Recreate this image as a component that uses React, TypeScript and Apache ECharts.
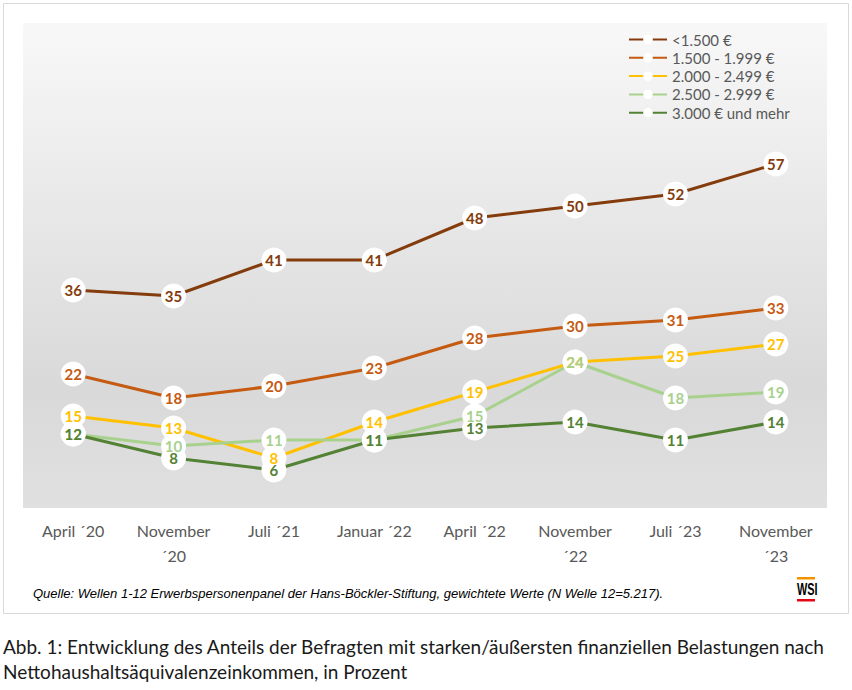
import React, { useEffect, useRef } from "react";
import * as echarts from "echarts";

const categories = [
  "April ´20",
  "November ´20",
  "Juli ´21",
  "Januar ´22",
  "April ´22",
  "November ´22",
  "Juli ´23",
  "November ´23",
];

const seriesNames = [
  "<1.500 €",
  "1.500 - 1.999 €",
  "2.000 - 2.499 €",
  "2.500 - 2.999 €",
  "3.000 € und mehr",
];

const valuesUnder1500 = [36, 35, 41, 41, 48, 50, 52, 57];
const values1500to1999 = [22, 18, 20, 23, 28, 30, 31, 33];
const values2000to2499 = [15, 13, 8, 14, 19, 24, 25, 27];
const values2500to2999 = [12, 10, 11, 11, 15, 24, 18, 19];
const values3000plus = [12, 8, 6, 11, 13, 14, 11, 14];

const seriesColors = ["#843c0c", "#c55a11", "#ffc000", "#a9d18e", "#548235"];

const sourceText =
  "Quelle: Wellen 1-12 Erwerbspersonenpanel der Hans-Böckler-Stiftung, gewichtete Werte (N Welle 12=5.217).";
const captionLine1 =
  "Abb. 1: Entwicklung des Anteils der Befragten mit starken/äußersten finanziellen Belastungen nach";
const captionLine2 = "Nettohaushaltsäquivalenzeinkommen, in Prozent";

export default function App() {
  const ref = useRef<HTMLDivElement>(null);

  useEffect(() => {
    if (!ref.current) return;
    const chart = echarts.init(ref.current, null, { renderer: "svg" });
    const allValues = [
      valuesUnder1500,
      values1500to1999,
      values2000to2499,
      values2500to2999,
      values3000plus,
    ];
    const font = "Lato, 'Open Sans', sans-serif";

    const series = allValues.map((vals, i) => ({
      name: seriesNames[i],
      type: "line",
      data: vals,
      symbol: "circle",
      symbolSize: 25,
      color: seriesColors[i],
      itemStyle: { color: "#ffffff", borderWidth: 0 },
      lineStyle: { color: seriesColors[i], width: 3 },
      label: {
        show: true,
        position: "inside",
        color: seriesColors[i],
        fontFamily: font,
        fontWeight: "bold",
        fontSize: 15,
      },
      labelLayout: { hideOverlap: false },
      emphasis: { disabled: true },
      z: 2,
    }));

    chart.setOption({
      animation: false,
      backgroundColor: "#ffffff",
      grid: { left: 23, right: 26, top: 26, bottom: 184, containLabel: false },
      xAxis: {
        type: "category",
        data: categories,
        boundaryGap: true,
        axisLine: { show: false },
        axisTick: { show: false },
        axisLabel: {
          color: "#595959",
          fontFamily: font,
          fontSize: 16,
          lineHeight: 25,
          margin: 12,
          interval: 0,
          formatter: (v: string) =>
            v.startsWith("November") ? v.replace(" ", "\n") : v,
        },
      },
      yAxis: {
        type: "value",
        min: 0,
        max: 80,
        interval: 10,
        show: false,
        splitLine: { show: false },
      },
      legend: {
        data: seriesNames,
        orient: "vertical",
        left: 623,
        top: 27,
        itemWidth: 38,
        itemHeight: 12,
        itemGap: 3.3,
        textStyle: { color: "#595959", fontFamily: font, fontSize: 15 },
      },
      graphic: [
        {
          type: "rect",
          z: -10,
          shape: { x: 3.5, y: 3.5, width: 845, height: 610 },
          style: { fill: "#ffffff", stroke: "#d9d9d9", lineWidth: 1 },
          silent: true,
        },
        {
          type: "rect",
          z: -9,
          shape: { x: 23, y: 23, width: 804, height: 485 },
          style: {
            fill: new echarts.graphic.LinearGradient(0, 0, 0, 1, [
              { offset: 0, color: "#f8f8f8" },
              { offset: 0.75, color: "#d9d9d9" },
              { offset: 1, color: "#e0e0e0" },
            ]),
          },
          silent: true,
        },
        {
          type: "text",
          left: 33,
          top: 587,
          style: {
            text: sourceText,
            fill: "#000000",
            font: "italic 13px 'Liberation Sans', Arial, sans-serif",
          },
        },
        {
          type: "rect",
          shape: { x: 797, y: 577, width: 18, height: 2.5 },
          style: { fill: "#f39200" },
        },
        {
          type: "text",
          x: 797,
          y: 582,
          scaleX: 0.68,
          style: {
            text: "WSI",
            fill: "#000000",
            font: "bold 16px 'Liberation Sans', Arial, sans-serif",
            textVerticalAlign: "top",
          },
        },
        {
          type: "rect",
          shape: { x: 797, y: 599, width: 18, height: 2.5 },
          style: { fill: "#e30613" },
        },
        {
          type: "text",
          left: 3,
          top: 637,
          style: {
            text: captionLine1,
            fill: "#1a1a1a",
            font: "19px Lato, 'Open Sans', sans-serif",
          },
        },
        {
          type: "text",
          left: 3,
          top: 662,
          style: {
            text: captionLine2,
            fill: "#1a1a1a",
            font: "19px Lato, 'Open Sans', sans-serif",
          },
        },
      ],
      series,
    });

    return () => chart.dispose();
  }, []);

  return (
    <div
      ref={ref}
      style={{ position: "absolute", left: 0, top: 0, width: 852, height: 690 }}
    />
  );
}
